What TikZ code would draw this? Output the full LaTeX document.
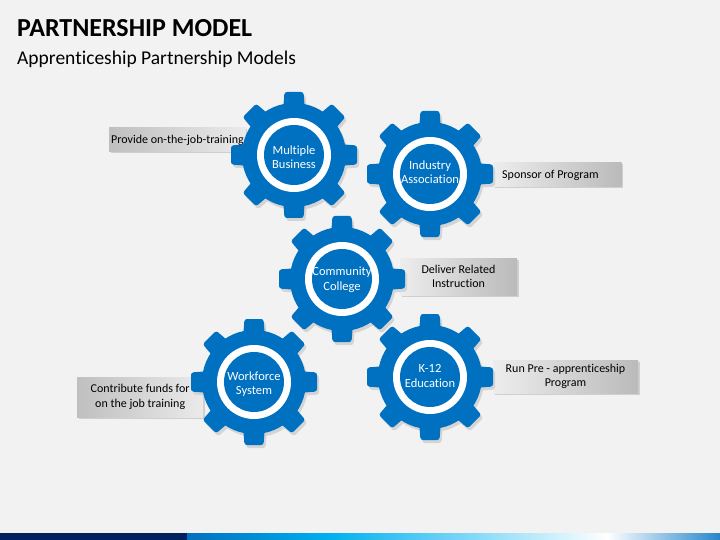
\documentclass[tikz,border=0pt]{standalone}
\usepackage{fontspec}
\setmainfont{Carlito}[Ligatures=CommonOff]
\usetikzlibrary{shadows}

\definecolor{gearblue}{HTML}{0070C0}
\definecolor{pagegray}{HTML}{F2F2F2}
\definecolor{geardrop}{HTML}{D4D4D4}
\definecolor{barnavy}{HTML}{002060}
\definecolor{barcyan}{HTML}{00B0F0}

\begin{document}
\begin{tikzpicture}[x=1pt, y=-1pt,
    tooth/.style={rounded corners=2.5pt},
    geartext/.style={text=white, font=\fontsize{12.5}{14.5}\selectfont, align=center},
    rightbox/.style={left color=black!7, right color=black!27, align=center,
        font=\fontsize{12}{14.5}\selectfont,
        drop shadow={shadow xshift=1.5pt, shadow yshift=-1.5pt, opacity=.3}},
    leftbox/.style={rightbox, left color=black!25, right color=black!8}]

        % Page background and footer bar
        \fill[pagegray] (0,0) rectangle (720,540);
        \fill[barnavy] (0,533) rectangle (187,540);
        \shade[left color=gearblue, right color=barcyan] (187,533) rectangle (330,540);
        \shade[left color=barcyan, right color=white] (330,533) rectangle (607,540);
        \shade[left color=white, right color=gearblue!85] (607,533) rectangle (720,540);

        % Titles
        \node[anchor=base west, inner sep=0, font=\bfseries\fontsize{26}{30}\selectfont] (title) at (17,37) {PARTNERSHIP MODEL};
        \node[anchor=base west, inner sep=0, font=\fontsize{19.5}{22}\selectfont] (subtitle) at (17,65) {Apprenticeship Partnership Models};

        % Label boxes (the gears sit on top of them)
        \node[leftbox, anchor=west, align=left, inner xsep=2pt, minimum height=24pt] (provide) at (109,140) {Provide on-the-job-training};
        \node[leftbox, anchor=west, minimum width=126pt, minimum height=40pt] (contribute) at (77,397) {Contribute funds for\\on the job training};
        \node[rightbox, anchor=west, align=left, inner xsep=9pt, minimum height=24pt] (sponsor) at (493,175) {Sponsor of Program\hspace{14pt}};
        \node[rightbox, minimum width=117pt, minimum height=37pt] (deliver) at (458.5,276.5) {Deliver Related\\Instruction};
        \node[rightbox, minimum width=145pt, minimum height=33pt] (runpre) at (565.5,376.5) {Run Pre - apprenticeship\\Program};

        % Gears: shadow, teeth, body and white ring
        \foreach \gx/\gy in {294/155, 430/174, 342/279, 254/382, 430/377} {
            \begin{scope}[shift={(\gx+2,\gy+3)}]
                \foreach \a in {0,45,...,315}
                    \fill[geardrop, tooth, rotate=\a] (-11,44) -- (-9.5,63) -- (9.5,63) -- (11,44) -- cycle;
                \fill[geardrop] (0,0) circle (52pt);
            \end{scope}
            \begin{scope}[shift={(\gx,\gy)}]
                \foreach \a in {0,45,...,315}
                    \fill[gearblue, tooth, rotate=\a] (-11,44) -- (-9.5,63) -- (9.5,63) -- (11,44) -- cycle;
                \fill[gearblue] (0,0) circle (52pt);
                \fill[white] (0,0) circle (37pt);
                \fill[gearblue] (0,0) circle (30pt);
            \end{scope}
        }

        % Gear captions
        \node[geartext] (business) at (294,157) {Multiple\\Business};
        \node[geartext] (industry) at (430,172) {Industry\\Association};
        \node[geartext] (college) at (342,280) {Community\\College};
        \node[geartext] (workforce) at (254,384) {Workforce\\System};
        \node[geartext] (education) at (430,376) {K-12\\Education};
    \end{tikzpicture}
\end{document}
